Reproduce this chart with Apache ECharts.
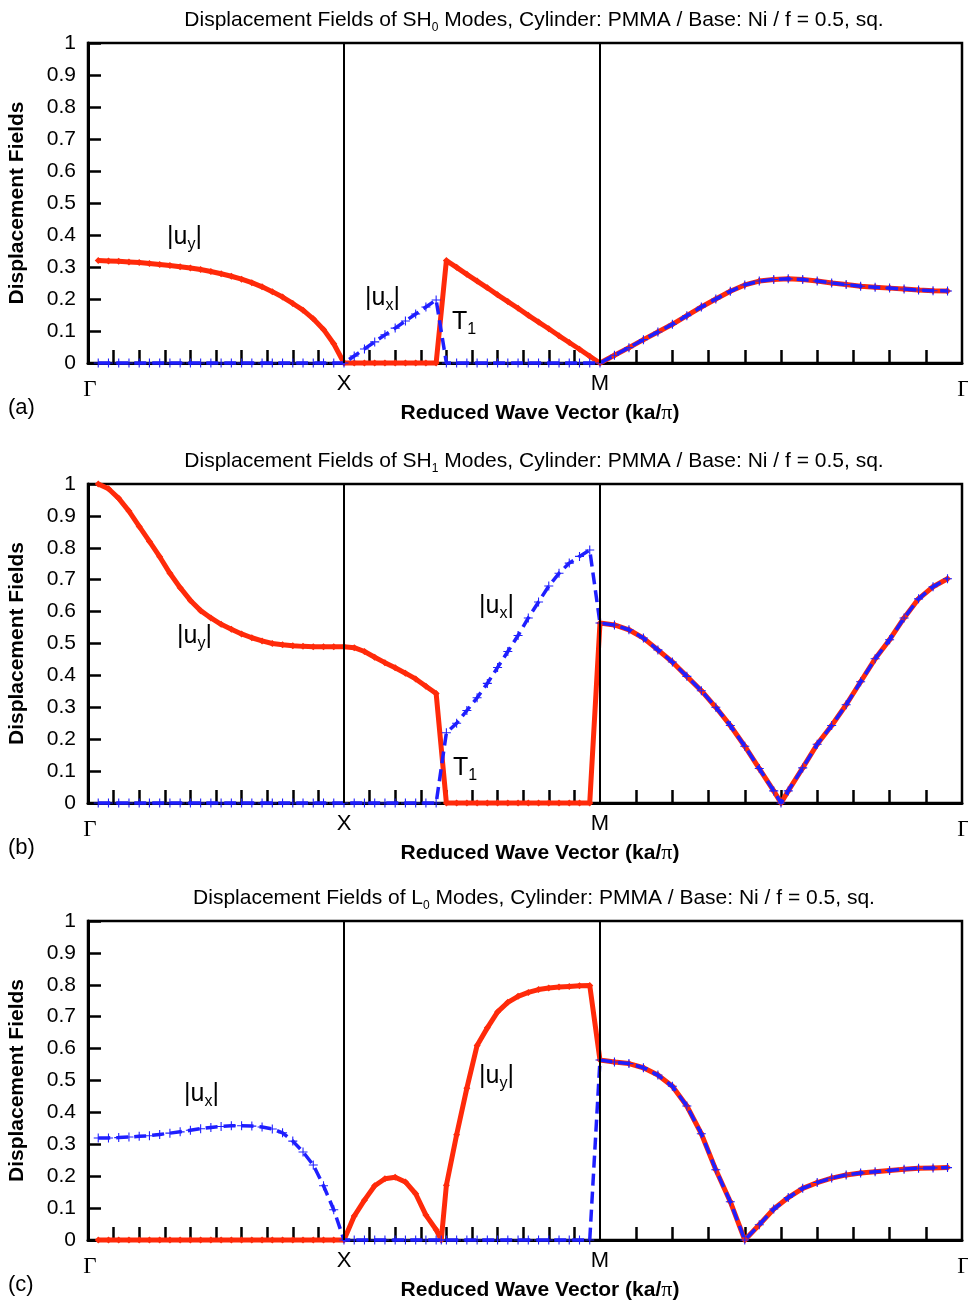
<!DOCTYPE html>
<html>
<head>
<meta charset="utf-8">
<script src="https://cdn.jsdelivr.net/npm/echarts@6/dist/echarts.min.js"></script>
<style>
  html, body { margin: 0; padding: 0; background: #fff; }
  #main { width: 968px; height: 1305px; }
</style>
</head>
<body>
<div id="main"></div>
<script>
  var SQ2 = Math.SQRT2;
  // path Γ-X (length 1), X-M (length 1), M-Γ (length √2)
  var segStart = [0, 1, 2];
  var segLen = [1, 1, SQ2];
  var symLabels = ['Γ', 'X', 'M', 'Γ'];
  var symPos = [0, 1, 2, 2 + SQ2];

  // sample fractions along each segment
  function steps(n) {
    var out = [];
    for (var k = 1; k <= n; k++) out.push(+(k * 0.04).toFixed(2));
    return out;
  }
  var fracGX = steps(25);            // 0.04 ... 1.00
  var fracXM = steps(25);            // 0.04 ... 1.00
  var fracMG = steps(24);            // 0.04 ... 0.96
  var fracXMc = [0.04, 0.08, 0.12, 0.16, 0.2, 0.24, 0.28, 0.32, 0.36, 0.38, 0.4, 0.44, 0.48, 0.52, 0.56, 0.6, 0.64, 0.68, 0.72, 0.76, 0.8, 0.84, 0.88, 0.92, 0.96, 1];
  var fracMGb = [0.04, 0.08, 0.12, 0.16, 0.2, 0.24, 0.28, 0.32, 0.36, 0.4, 0.44, 0.48, 0.5, 0.52, 0.56, 0.6, 0.64, 0.68, 0.72, 0.76, 0.8, 0.84, 0.88, 0.92, 0.96];

  // (a) SH0
  var aUyGX = [0.320, 0.319, 0.318, 0.316, 0.314, 0.311, 0.308, 0.305, 0.301, 0.297, 0.292, 0.286, 0.279, 0.271, 0.262, 0.251, 0.238, 0.223, 0.206, 0.186, 0.165, 0.138, 0.105, 0.060, 0.000];
  var aUxGX = [0, 0, 0, 0, 0, 0, 0, 0, 0, 0, 0, 0, 0, 0, 0, 0, 0, 0, 0, 0, 0, 0, 0, 0, 0];
  var aUyXM = [0, 0, 0, 0, 0, 0, 0, 0, 0, 0.320, 0.299, 0.277, 0.256, 0.235, 0.213, 0.192, 0.171, 0.149, 0.128, 0.107, 0.085, 0.064, 0.043, 0.021, 0.000];
  var aUxXM = [0.022, 0.044, 0.066, 0.088, 0.109, 0.131, 0.153, 0.175, 0.197, 0, 0, 0, 0, 0, 0, 0, 0, 0, 0, 0, 0, 0, 0, 0, 0];
  var aMG = [0.024, 0.048, 0.073, 0.097, 0.121, 0.148, 0.175, 0.200, 0.224, 0.244, 0.256, 0.261, 0.263, 0.261, 0.256, 0.250, 0.245, 0.240, 0.237, 0.234, 0.231, 0.228, 0.226, 0.225];

  // (b) SH1
  var bUyGX = [1.000, 0.985, 0.955, 0.915, 0.867, 0.820, 0.772, 0.720, 0.675, 0.635, 0.603, 0.580, 0.560, 0.545, 0.530, 0.518, 0.508, 0.500, 0.496, 0.493, 0.491, 0.490, 0.490, 0.490, 0.490];
  var bUxGX = [0, 0, 0, 0, 0, 0, 0, 0, 0, 0, 0, 0, 0, 0, 0, 0, 0, 0, 0, 0, 0, 0, 0, 0, 0];
  var bUyXM = [0.487, 0.475, 0.457, 0.440, 0.424, 0.407, 0.389, 0.366, 0.343, 0, 0, 0, 0, 0, 0, 0, 0, 0, 0, 0, 0, 0, 0, 0, 0.564];
  var bUxXM = [0, 0, 0, 0, 0, 0, 0, 0, 0, 0.220, 0.250, 0.290, 0.330, 0.375, 0.425, 0.475, 0.525, 0.580, 0.630, 0.680, 0.720, 0.752, 0.773, 0.793, 0.564];
  var bMG = [0.558, 0.543, 0.517, 0.480, 0.442, 0.397, 0.352, 0.300, 0.243, 0.178, 0.108, 0.038, 0.000, 0.038, 0.110, 0.184, 0.243, 0.308, 0.380, 0.452, 0.512, 0.580, 0.640, 0.678, 0.703];

  // (c) L0
  var cUyGX = [0, 0, 0, 0, 0, 0, 0, 0, 0, 0, 0, 0, 0, 0, 0, 0, 0, 0, 0, 0, 0, 0, 0, 0, 0];
  var cUxGX = [0.320, 0.320, 0.321, 0.323, 0.325, 0.327, 0.331, 0.335, 0.339, 0.344, 0.349, 0.353, 0.356, 0.358, 0.358, 0.357, 0.354, 0.348, 0.336, 0.310, 0.276, 0.235, 0.170, 0.095, 0.000];
  var cUyXM = [0.075, 0.125, 0.170, 0.192, 0.197, 0.182, 0.145, 0.078, 0.032, 0.000, 0.172, 0.330, 0.476, 0.610, 0.665, 0.715, 0.745, 0.764, 0.776, 0.785, 0.790, 0.793, 0.795, 0.797, 0.798, 0.564];
  var cUxXM = [0, 0, 0, 0, 0, 0, 0, 0, 0, 0, 0, 0, 0, 0, 0, 0, 0, 0, 0, 0, 0, 0, 0, 0, 0, 0.564];
  var cMG = [0.558, 0.553, 0.540, 0.517, 0.482, 0.420, 0.333, 0.220, 0.120, 0.000, 0.048, 0.097, 0.133, 0.162, 0.180, 0.194, 0.204, 0.210, 0.214, 0.218, 0.222, 0.225, 0.226, 0.227];

  function pts(seg, fracs, vals) {
    return fracs.map(function (f, i) { return [segStart[seg] + f * segLen[seg], vals[i]]; });
  }
  function path(gx, fx, xm, fm, mg) {
    return pts(0, fracGX, gx).concat(pts(1, fx, xm), pts(2, fm, mg));
  }

  // bottom ticks every tenth of each segment
  var tickPos = [];
  for (var s = 0; s < 3; s++) {
    for (var k = 1; k <= 9; k++) tickPos.push(segStart[s] + k * 0.1 * segLen[s]);
  }

  var RED = '#ff2a0a';
  var BLUE = '#1f1fff';
  var FONT = 'Liberation Sans, Arial, sans-serif';
  var PLUS = 'path://M4.4,0 H5.6 V4.4 H10 V5.6 H5.6 V10 H4.4 V5.6 H0 V4.4 H4.4 Z';

  var panels = [
    { top: 43, height: 320, mode: 'SH', sub: '0', tag: '(a)',
      uy: path(aUyGX, fracXM, aUyXM, fracMG, aMG),
      ux: path(aUxGX, fracXM, aUxXM, fracMG, aMG),
      labels: [['u', 'y', 167, 221], ['u', 'x', 365, 282], ['T', '1', 452, 306]] },
    { top: 484, height: 319, mode: 'SH', sub: '1', tag: '(b)',
      uy: path(bUyGX, fracXM, bUyXM, fracMGb, bMG),
      ux: path(bUxGX, fracXM, bUxXM, fracMGb, bMG),
      labels: [['u', 'y', 177, 620], ['u', 'x', 479, 590], ['T', '1', 453, 752]] },
    { top: 921, height: 319, mode: 'L', sub: '0', tag: '(c)',
      uy: path(cUyGX, fracXMc, cUyXM, fracMG, cMG),
      ux: path(cUxGX, fracXMc, cUxXM, fracMG, cMG),
      labels: [['u', 'x', 184, 1078], ['u', 'y', 479, 1060]] }
  ];

  var option = {
    animation: false,
    backgroundColor: '#fff',
    title: [], grid: [], xAxis: [], yAxis: [], series: [], graphic: []
  };

  panels.forEach(function (p, i) {
    option.title.push({
      text: '{t|Displacement Fields of ' + p.mode + '}{s|' + p.sub + '}{t| Modes, Cylinder: PMMA / Base: Ni / f = 0.5, sq.}',
      left: 529, top: p.top - 41, textAlign: 'center',
      textStyle: {
        fontWeight: 'normal',
        rich: {
          t: { fontSize: 21, fontWeight: 'normal', fontFamily: FONT, color: '#000', lineHeight: 27, verticalAlign: 'middle' },
          s: { fontSize: 12, fontWeight: 'normal', fontFamily: FONT, color: '#000', lineHeight: 27, verticalAlign: 'bottom' }
        }
      }
    });
    option.grid.push({
      left: 88, top: p.top, width: 874, height: p.height,
      show: true, borderColor: '#000', borderWidth: 2.5,
      outerBoundsMode: 'none'
    });
    option.xAxis.push({
      gridIndex: i, type: 'value', min: 0, max: 2 + SQ2,
      axisLine: { show: true, onZero: false, lineStyle: { color: '#000', width: 3 } },
      axisTick: { show: true, inside: true, length: 13, customValues: tickPos, lineStyle: { color: '#000', width: 2.5 } },
      axisLabel: {
        show: true, customValues: symPos, margin: 10, color: '#000', fontSize: 22, fontFamily: FONT,
        formatter: function (v) {
          var idx = 0;
          symPos.forEach(function (q, j) { if (Math.abs(q - v) < 1e-6) idx = j; });
          return idx === 0 || idx === 3 ? '{g|' + symLabels[idx] + '}' : symLabels[idx];
        },
        rich: { g: { fontFamily: 'Liberation Serif, serif', fontSize: 23, color: '#000', padding: [5, 0, 0, 4] } }
      },
      splitLine: { show: false },
      name: '{b|Reduced Wave Vector (ka/}{p|π}{b|)}',
      nameLocation: 'middle', nameGap: 38,
      nameTextStyle: {
        padding: [0, 0, 0, 30],
        rich: {
          b: { fontSize: 21, fontWeight: 'bold', fontFamily: FONT, color: '#000' },
          p: { fontSize: 22, fontFamily: 'Liberation Serif, serif', color: '#000' }
        }
      }
    });
    option.yAxis.push({
      gridIndex: i, type: 'value', min: 0, max: 1, interval: 0.1,
      axisLine: { show: true, lineStyle: { color: '#000', width: 3 } },
      axisTick: { show: true, inside: true, length: 13, lineStyle: { color: '#000', width: 2.5 } },
      axisLabel: { color: '#000', fontSize: 21, margin: 12, fontFamily: FONT },
      splitLine: { show: false },
      name: 'Displacement Fields', nameLocation: 'middle', nameGap: 60,
      nameTextStyle: { fontSize: 21, fontWeight: 'bold', fontFamily: FONT, color: '#000' }
    });
    option.series.push({
      name: '|uy|', type: 'line', xAxisIndex: i, yAxisIndex: i, data: p.uy,
      symbol: 'diamond', symbolSize: 7, clip: false, z: 3,
      lineStyle: { color: RED, width: 5 }, itemStyle: { color: RED },
      emphasis: { disabled: true },
      markLine: {
        silent: true, symbol: ['none', 'none'], label: { show: false },
        lineStyle: { color: '#000', width: 2, type: 'solid' },
        data: [{ xAxis: 1 }, { xAxis: 2 }]
      }
    });
    option.series.push({
      name: '|ux|', type: 'line', xAxisIndex: i, yAxisIndex: i, data: p.ux,
      symbol: PLUS, symbolSize: 9, clip: false, z: 4,
      lineStyle: { color: BLUE, width: 3.5, type: [12, 6] }, itemStyle: { color: BLUE },
      emphasis: { disabled: true }
    });
    option.graphic.push({
      type: 'text', left: 8, top: p.top + p.height + 34,
      style: { text: p.tag, fontSize: 22, fontFamily: FONT, fill: '#000' }
    });
    p.labels.forEach(function (l) {
      var txt = l[0] === 'u' ? '{n||u}{s|' + l[1] + '}{n||}' : '{n|T}{s|' + l[1] + '}';
      option.graphic.push({
        type: 'text', x: l[2], y: l[3], z: 10,
        style: {
          text: txt,
          rich: {
            n: { fontSize: 25, fontFamily: FONT, fill: '#000', lineHeight: 32, verticalAlign: 'middle' },
            s: { fontSize: 16, fontFamily: FONT, fill: '#000', lineHeight: 32, verticalAlign: 'bottom' }
          }
        }
      });
    });
  });

  var chart = echarts.init(document.getElementById('main'));
  chart.setOption(option);
</script>
</body>
</html>
